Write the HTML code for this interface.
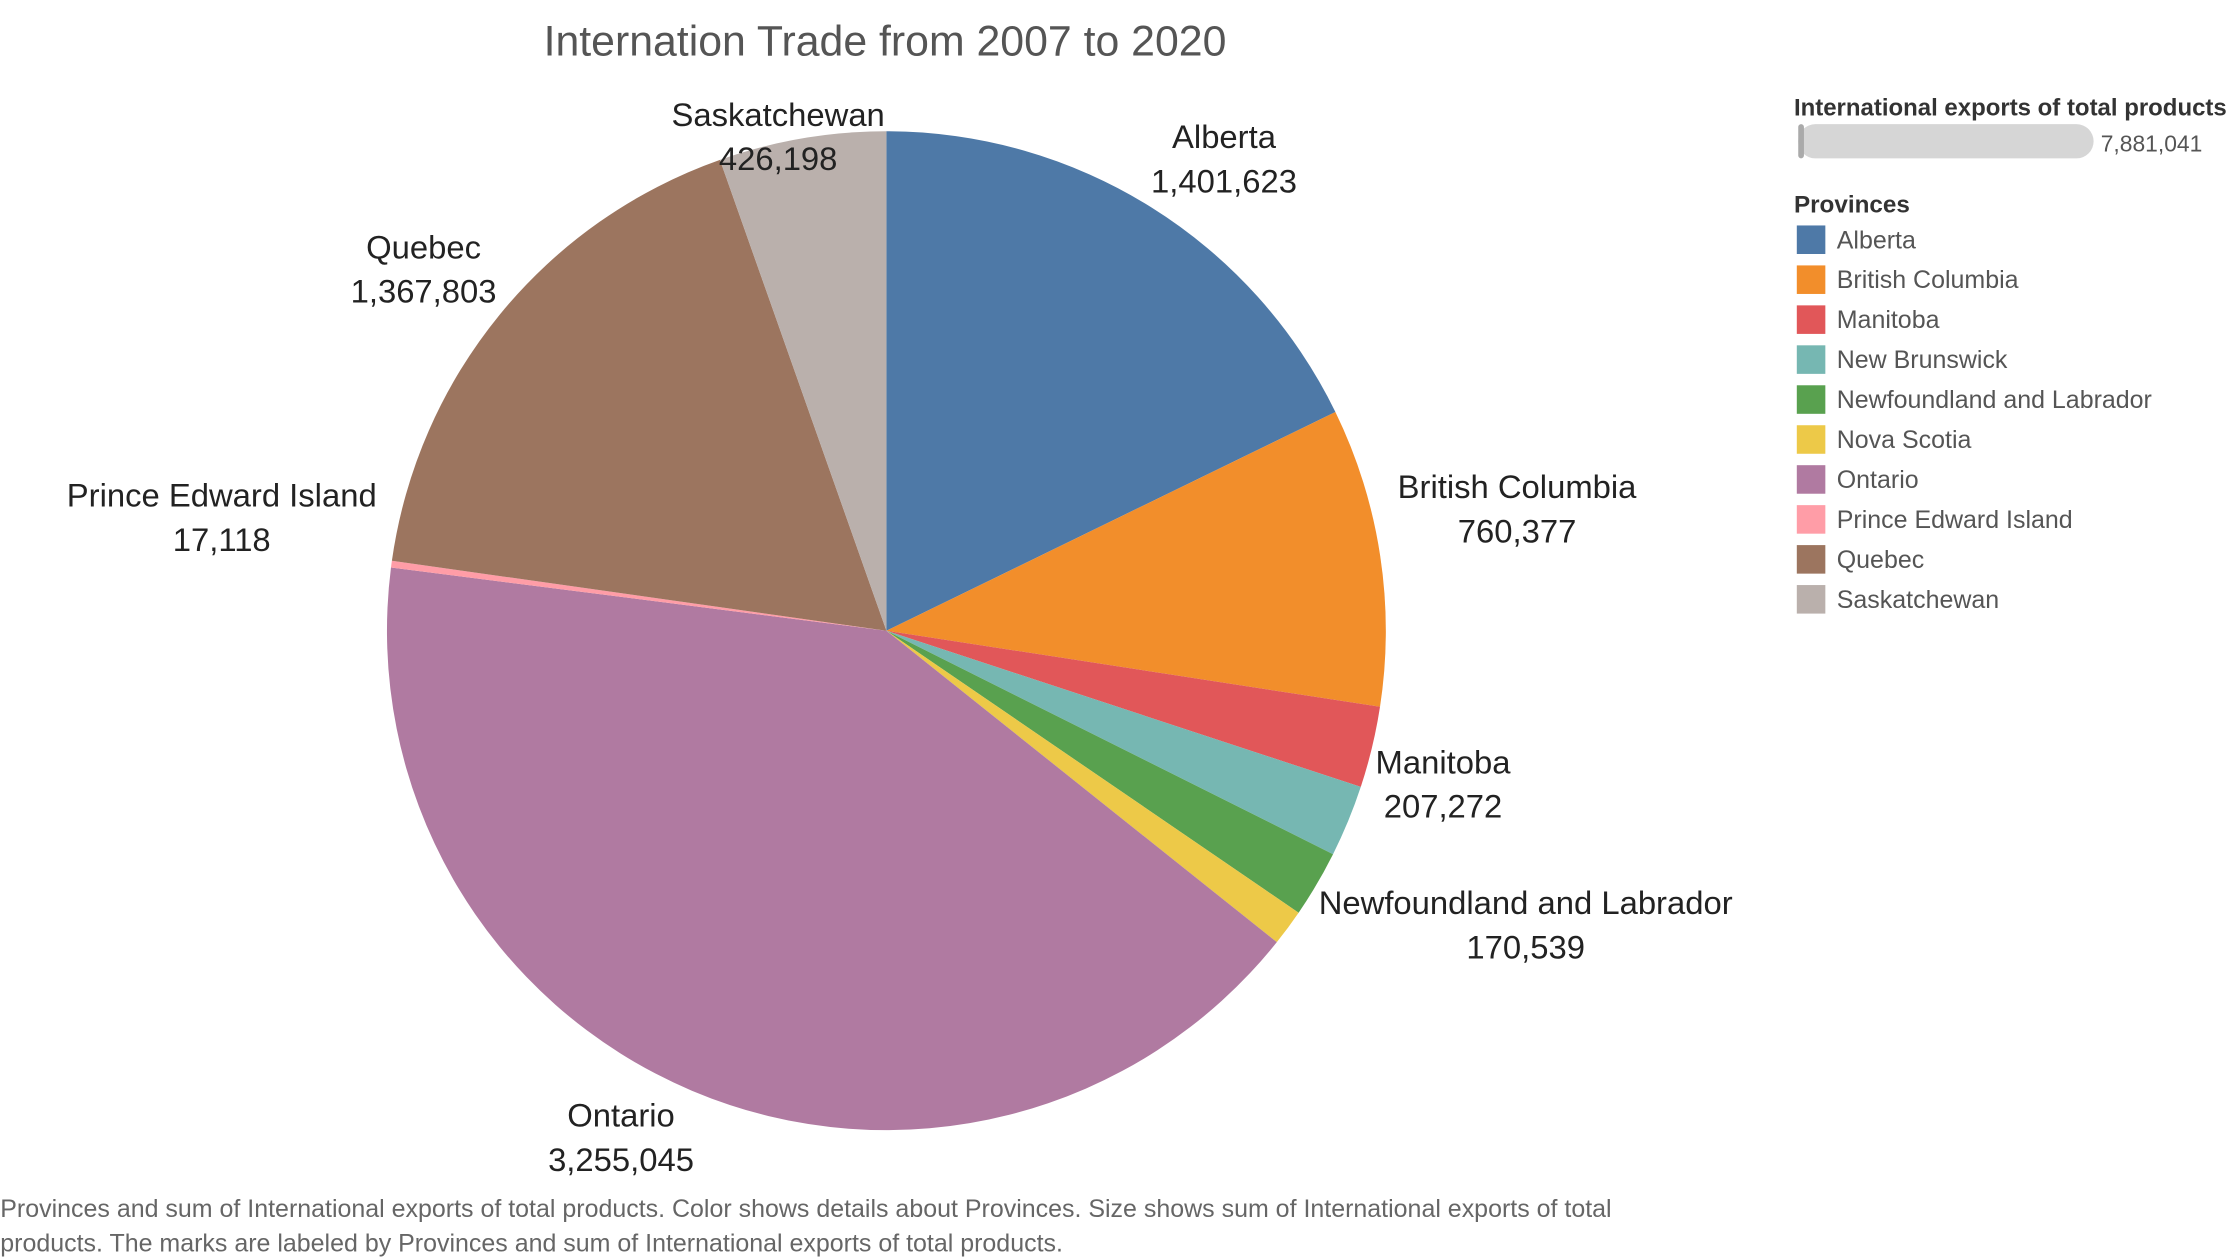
<!DOCTYPE html>
<html><head><meta charset="utf-8"><style>
html,body{margin:0;padding:0;background:#fff;}
svg{display:block;font-family:"Liberation Sans","DejaVu Sans",sans-serif;}
</style></head><body>
<svg id="chart" width="2238" height="1260" viewBox="0 0 1568 883" xmlns="http://www.w3.org/2000/svg">
<text x="620" y="39" text-anchor="middle" font-size="30" fill="#555">Internation Trade from 2007 to 2020</text>
<g id="slices"></g>
<g id="labels"></g>
<g>
<text x="1257" y="81" font-size="16.8" fill="#333" font-weight="bold">International exports of total products</text>
<rect x="1260" y="87" width="207" height="24" rx="12" fill="#d6d6d6"/>
<rect x="1260" y="87" width="4" height="24" rx="2" fill="#aaa"/>
<text x="1472" y="106" font-size="16" fill="#555">7,881,041</text>
</g>
<g id="legend">
<text x="1257" y="149" font-size="17" font-weight="bold" fill="#333">Provinces</text>
</g>
<text font-size="17.5" fill="#666">
<tspan x="0" y="853">Provinces and sum of International exports of total products.  Color shows details about Provinces.  Size shows sum of International exports of total</tspan>
<tspan x="0" y="877">products.  The marks are labeled by Provinces and sum of International exports of total products.</tspan>
</text>
</svg>
<script>
const categories = ["Alberta","British Columbia","Manitoba","New Brunswick","Newfoundland and Labrador","Nova Scotia","Ontario","Prince Edward Island","Quebec","Saskatchewan"];
const values = [1401623,760377,207272,183000,170539,92066,3255045,17118,1367803,426198];
const showLabel = [true,true,true,false,true,false,true,true,true,true];
const colors = ["#4e79a7","#f28e2b","#e15759","#76b7b2","#59a14f","#edc948","#b07aa1","#ff9da7","#9c755f","#bab0ac"];
const NS="http://www.w3.org/2000/svg";
const cx=621, cy=442, R=350;
const total=values.reduce((a,b)=>a+b,0);
function angle(v){return v/total*Math.PI*2;}
function pt(a,r){return [cx+r*Math.sin(a), cy-r*Math.cos(a)];}
const sg=document.getElementById('slices'), lg=document.getElementById('labels'), leg=document.getElementById('legend');
let acc=0;
values.forEach((v,i)=>{
  const a0=angle(acc), a1=angle(acc+v); acc+=v;
  const p0=pt(a0,R), p1=pt(a1,R);
  const large=(a1-a0)>Math.PI?1:0;
  const p=document.createElementNS(NS,'path');
  p.setAttribute('d',`M${cx},${cy} L${p0[0]},${p0[1]} A${R},${R} 0 ${large} 1 ${p1[0]},${p1[1]} Z`);
  p.setAttribute('fill',colors[i]);
  
  
  sg.appendChild(p);
  if(showLabel[i]){
    const mid=(a0+a1)/2;
    const s=Math.sin(mid), c=Math.cos(mid);
    const lp=pt(mid,360);
    const valText=v.toLocaleString('en-US');
    const hw=Math.max(categories[i].length,valText.length)*23*0.25;
    let x=lp[0], center=lp[1];
    if(s>0.35) x=lp[0]-6+hw; else if(s<-0.35) x=lp[0]+6-hw; else x=lp[0]-15;
    if(Math.abs(s)<=0.35 && c>0) center=lp[1]+7;
    else if(c>0.2) center=lp[1]-27; else if(c<-0.2) center=lp[1]+22; else center=lp[1]-33;
    const t=document.createElementNS(NS,'text');
    
    
    t.setAttribute('text-anchor','middle');
    t.setAttribute('font-size','23');
    t.setAttribute('fill','#222');
    const s1=document.createElementNS(NS,'tspan');
    s1.setAttribute('x',x); s1.setAttribute('y',center-6); s1.textContent=categories[i];
    const s2=document.createElementNS(NS,'tspan');
    s2.setAttribute('x',x); s2.setAttribute('y',center+25); s2.textContent=valText;
    t.appendChild(s1); t.appendChild(s2);
    lg.appendChild(t);
  }
  const r=document.createElementNS(NS,'rect');
  r.setAttribute('x',1259); r.setAttribute('y',158+i*28); r.setAttribute('width',20); r.setAttribute('height',20);
  r.setAttribute('fill',colors[i]);
  
  
  leg.appendChild(r);
  const lt=document.createElementNS(NS,'text');
  lt.setAttribute('x',1287); lt.setAttribute('y',174+i*28); lt.setAttribute('font-size','17.5'); lt.setAttribute('fill','#555');
  lt.textContent=categories[i];
  
  
  leg.appendChild(lt);
});
</script>
</body></html>
